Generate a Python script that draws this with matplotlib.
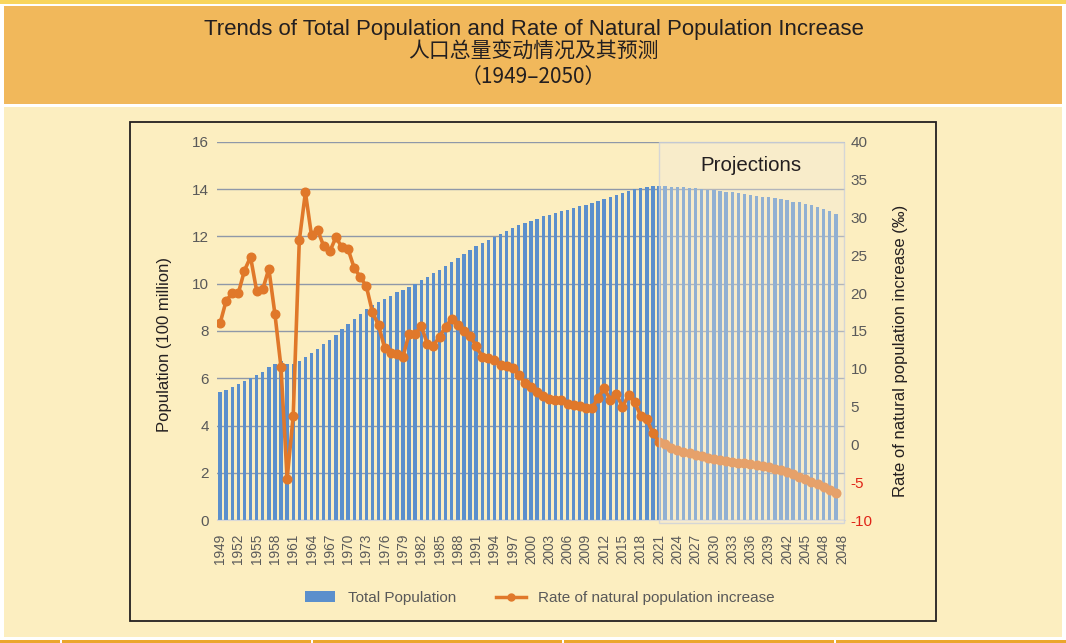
import matplotlib
matplotlib.use("Agg")
import matplotlib.pyplot as plt
import matplotlib.transforms as mtransforms
from matplotlib.patches import Rectangle, Patch
from matplotlib.lines import Line2D
import numpy as np

plt.rcParams['font.family'] = ['Liberation Sans', 'Noto Sans CJK SC', 'DejaVu Sans']
plt.rcParams['axes.unicode_minus'] = False

# ---------------- data ----------------
years_hist = list(range(1949, 2022))          # 1949-2021
years_proj = list(range(2022, 2051))          # 2022-2050

pop_hist = [5.42, 5.52, 5.63, 5.75, 5.88, 6.03, 6.15, 6.28, 6.47, 6.60,
            6.72, 6.62, 6.59, 6.73, 6.92, 7.05, 7.25, 7.45, 7.64, 7.85,
            8.07, 8.30, 8.52, 8.72, 8.92, 9.09, 9.24, 9.37, 9.50, 9.63,
            9.75, 9.87, 10.01, 10.17, 10.30, 10.44, 10.59, 10.75, 10.93, 11.10,
            11.27, 11.43, 11.58, 11.72, 11.85, 11.99, 12.11, 12.24, 12.36, 12.48,
            12.58, 12.67, 12.76, 12.85, 12.92, 13.00, 13.08, 13.14, 13.21, 13.28,
            13.35, 13.41, 13.49, 13.59, 13.67, 13.76, 13.83, 13.92, 14.00, 14.05,
            14.10, 14.12, 14.13]
pop_proj = [14.12, 14.11, 14.10, 14.09, 14.07, 14.04, 14.01, 13.98, 13.96, 13.93,
            13.90, 13.87, 13.84, 13.82, 13.77, 13.73, 13.69, 13.66, 13.62, 13.58,
            13.53, 13.48, 13.44, 13.38, 13.32, 13.25, 13.18, 13.08, 12.96]

rate_hist = [16.00, 19.00, 20.00, 20.00, 23.00, 24.79, 20.32, 20.50, 23.23, 17.24,
             10.19, -4.57, 3.78, 26.99, 33.33, 27.64, 28.38, 26.22, 25.53, 27.38,
             26.08, 25.83, 23.33, 22.16, 20.89, 17.48, 15.77, 12.72, 12.12, 12.00,
             11.61, 14.60, 14.55, 15.68, 13.29, 13.08, 14.26, 15.57, 16.61, 15.73,
             15.04, 14.39, 12.98, 11.60, 11.45, 11.21, 10.55, 10.42, 10.06, 9.14,
             8.18, 7.58, 6.95, 6.45, 6.01, 5.87, 5.89, 5.28, 5.17, 5.08,
             4.87, 4.79, 6.13, 7.43, 5.90, 6.71, 4.93, 6.53, 5.58, 3.78,
             3.32, 1.45, 0.34]
rate_proj = [0.00, -0.45, -0.70, -0.95, -1.15, -1.38, -1.60, -1.80, -1.95, -2.10,
             -2.20, -2.32, -2.40, -2.50, -2.60, -2.72, -2.85, -3.00, -3.20, -3.45,
             -3.65, -3.95, -4.30, -4.55, -4.95, -5.30, -5.65, -6.05, -6.47]

tick_labels = [str(y) for y in range(1949, 2049, 3)] + ['2048']

title_en = "Trends of Total Population and Rate of Natural Population Increase"
title_cn = "人口总量变动情况及其预测"
title_yr = "（1949–2050）"

# ---------------- figure ----------------
W, H = 1066, 643
fig = plt.figure(figsize=(W / 100, H / 100), dpi=100, facecolor='white')


def frect(x0, y0, x1, y1, z=-5, **kw):
    r = Rectangle((x0 / W, 1 - y1 / H), (x1 - x0) / W, (y1 - y0) / H,
                  transform=fig.transFigure, figure=fig, zorder=z, **kw)
    fig.patches.append(r)


frect(0, 0, 1066, 4, facecolor='#F9D55C', edgecolor='none')
frect(4, 6, 1062, 104, facecolor='#F1B85B', edgecolor='none')
frect(4, 107, 1062, 637, facecolor='#FCEEC0', edgecolor='none')
frect(0, 640, 1066, 643, facecolor='#EBA62C', edgecolor='none')
for sx in [60, 311, 562, 834]:
    frect(sx, 640, sx + 2, 643, facecolor='white', edgecolor='none')
frect(130, 122, 936, 621, z=-4, facecolor='none', edgecolor='#231F20', linewidth=1.3)

tc = '#231F20'
fig.text(534 / W, 1 - 29 / H, title_en, ha='center', va='center', fontsize=16, color=tc)
fig.text(533 / W, 1 - 52 / H, title_cn, ha='center', va='center', fontsize=15, color=tc,
         family=['Noto Sans CJK SC', 'DejaVu Sans'])
fig.text(533 / W, 1 - 77 / H, title_yr, ha='center', va='center', fontsize=15, color=tc,
         family=['Noto Sans CJK SC', 'DejaVu Sans'])

# ---------------- axes ----------------
ax = fig.add_axes([217 / W, (H - 520) / H, 628 / W, 378 / H])
ax.set_facecolor('none')
years = years_hist + years_proj
pop = pop_hist + pop_proj
rate = rate_hist + rate_proj
x = np.arange(len(years))

blue = '#5B8FCC'
orange = '#E0782A'
grey = '#595959'

ax.bar(x, pop, width=0.55, color=blue, zorder=2)
ax.set_xlim(-0.5, 102.5)
ax.set_ylim(0, 16)
ax.set_yticks(np.arange(0, 17, 2))
ax.yaxis.grid(True, color='#8F98A8', linewidth=1.0)
ax.set_axisbelow(True)
for s in ['top', 'left', 'right']:
    ax.spines[s].set_visible(False)
ax.spines['bottom'].set_color('#D8D8D8')
ax.tick_params(axis='y', length=0, pad=6, labelsize=11, labelcolor=grey)
ax.set_xticks(np.arange(0, 103, 3))
ax.set_xticklabels(tick_labels, rotation=90, fontsize=9.8, color=grey)
ax.tick_params(axis='x', length=0, pad=10)

ax2 = ax.twinx()
ax2.set_ylim(-10, 40)
ax2.plot(x, rate, color=orange, linewidth=2.6, marker='o', markersize=6.2, zorder=3)
ax2.set_yticks(np.arange(-10, 41, 5))
ax2.tick_params(axis='y', length=0, pad=4, labelsize=11, labelcolor=grey)
for lab, v in zip(ax2.get_yticklabels(), np.arange(-10, 41, 5)):
    if v < 0:
        lab.set_color('#E02418')
for s in ax2.spines.values():
    s.set_visible(False)

trans = mtransforms.blended_transform_factory(ax2.transData, ax2.transAxes)
ax2.add_patch(Rectangle((72.0, -0.008), 30.3, 1.008, transform=trans,
                        facecolor=(0.95, 0.92, 0.87, 0.36),
                        edgecolor=(0.80, 0.82, 0.86, 0.8), linewidth=1.0,
                        zorder=10, clip_on=False))
ax2.text(87.1, 0.937, 'Projections', transform=trans, ha='center', va='center',
         fontsize=14.8, color=tc, zorder=11)

fig.text(165 / W, 1 - 344 / H, 'Population (100 million)', rotation=90,
         ha='center', va='center', fontsize=12, color=tc)
fig.text(900 / W, 1 - 351 / H, 'Rate of natural population increase (‰)', rotation=90,
         ha='center', va='center', fontsize=12, color=tc)

handles = [Patch(facecolor=blue, edgecolor='none'),
           Line2D([0], [0], color=orange, linewidth=2.5, marker='o', markersize=5)]
fig.legend(handles, ['Total Population', 'Rate of natural population increase'],
           loc='center', bbox_to_anchor=(540 / W, 1 - 598 / H), ncol=2, frameon=False,
           fontsize=11, labelcolor=grey, handlelength=2.0, columnspacing=2.6,
           handletextpad=0.8)

fig.savefig('out.png', dpi=100, facecolor='white')
